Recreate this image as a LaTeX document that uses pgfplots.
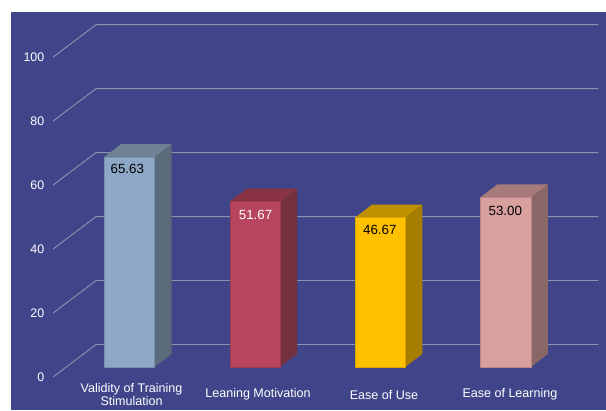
\documentclass[border=0pt]{standalone}
\usepackage{pgfplots}
\pgfplotsset{compat=1.18}
\usepackage{fontspec}
\setmainfont{Liberation Sans}
\definecolor{bg}{HTML}{40458A}
\definecolor{gridc}{HTML}{8E90AC}
\definecolor{fa}{HTML}{8CA8C6}\definecolor{sa}{HTML}{5B6B7C}\definecolor{ta}{HTML}{6E8195}
\definecolor{fb}{HTML}{B7455E}\definecolor{sb}{HTML}{73303F}\definecolor{tb}{HTML}{893345}
\definecolor{fc}{HTML}{FFC000}\definecolor{sc}{HTML}{A67D00}\definecolor{tc}{HTML}{BF9000}
\definecolor{fd}{HTML}{D9A0A0}\definecolor{sd}{HTML}{8A6666}\definecolor{td}{HTML}{A77B7B}
\begin{document}
\begin{tikzpicture}[x=1pt,y=1pt]
\fill[bg] (8.25pt,0pt) rectangle (454.5pt,298.5pt);
\begin{axis}[
  scale only axis, width=454.5pt, height=307.5pt,
  xmin=0, xmax=606, ymin=-13.4375, ymax=114.6875,
  axis line style={draw=none}, major tick length=0pt,
  xtick={131.5,258,384,510},
  xticklabels={{Validity of Training\\Stimulation},{Leaning Motivation},{Ease of Use},{Ease of Learning}},
  xticklabel style={anchor=center, align=center, text=white, font=\fontsize{9.4}{9.8}\selectfont, yshift=11.5pt},
  ytick={-3.125,16.875,36.875,56.875,76.875,96.875},
  yticklabels={0,20,40,60,80,100},
  yticklabel style={anchor=east, text=white, font=\fontsize{9.3}{10}\selectfont, xshift=36.6pt},
  bar shift=0pt,
]
% grid
\addplot[gridc, line width=0.7pt] coordinates {(53,-3.125) (96,7.03) (598.5,7.03)};
\addplot[gridc, line width=0.7pt] coordinates {(53,16.875) (96,27.03) (598.5,27.03)};
\addplot[gridc, line width=0.7pt] coordinates {(53,36.875) (96,47.03) (598.5,47.03)};
\addplot[gridc, line width=0.7pt] coordinates {(53,56.875) (96,67.03) (598.5,67.03)};
\addplot[gridc, line width=0.7pt] coordinates {(53,76.875) (96,87.03) (598.5,87.03)};
\addplot[gridc, line width=0.7pt] coordinates {(53,96.875) (96,107.03) (598.5,107.03)};
% bar 1
\addplot[draw=none, fill=sa] coordinates {(154.5,0) (171.5,4.06) (171.5,69.69) (154.5,65.63)} --cycle;
\addplot[draw=none, fill=ta] coordinates {(104,65.63) (154.5,65.63) (171.5,69.69) (121,69.69)} --cycle;
\addplot[ybar, bar width=50.5, fill=fa, draw=fa!85!black, line width=0.3pt,
  nodes near coords={65.63}, every node near coord/.append style={anchor=center, yshift=-8.7pt, xshift=-1.5pt, text=black, font=\fontsize{10}{11}\selectfont}] coordinates {(129.25,65.63)};
% bar 2
\addplot[draw=none, fill=sb] coordinates {(280,0) (297,4.06) (297,55.73) (280,51.67)} --cycle;
\addplot[draw=none, fill=tb] coordinates {(229.7,51.67) (280,51.67) (297,55.73) (246.7,55.73)} --cycle;
\addplot[ybar, bar width=50.3, fill=fb, draw=fb!85!black, line width=0.3pt,
  nodes near coords={51.67}, every node near coord/.append style={anchor=center, yshift=-10.1pt, xshift=0.5pt, text=white, font=\fontsize{10}{11}\selectfont}] coordinates {(254.85,51.67)};
% bar 3
\addplot[draw=none, fill=sc] coordinates {(405.3,0) (422.3,4.06) (422.3,50.73) (405.3,46.67)} --cycle;
\addplot[draw=none, fill=tc] coordinates {(355,46.67) (405.3,46.67) (422.3,50.73) (372,50.73)} --cycle;
\addplot[ybar, bar width=50.3, fill=fc, draw=fc!85!black, line width=0.3pt,
  nodes near coords={46.67}, every node near coord/.append style={anchor=center, yshift=-9.5pt, xshift=-0.2pt, text=black, font=\fontsize{10}{11}\selectfont}] coordinates {(380.15,46.67)};
% bar 4
\addplot[draw=none, fill=sd] coordinates {(531,0) (548,4.06) (548,57.06) (531,53)} --cycle;
\addplot[draw=none, fill=td] coordinates {(480.3,53) (531,53) (548,57.06) (497.3,57.06)} --cycle;
\addplot[ybar, bar width=50.7, fill=fd, draw=fd!85!black, line width=0.3pt,
  nodes near coords={53.00}, every node near coord/.append style={anchor=center, yshift=-10.1pt, xshift=-0.2pt, text=black, font=\fontsize{10}{11}\selectfont}] coordinates {(505.65,53)};
\end{axis}
\end{tikzpicture}
\end{document}
